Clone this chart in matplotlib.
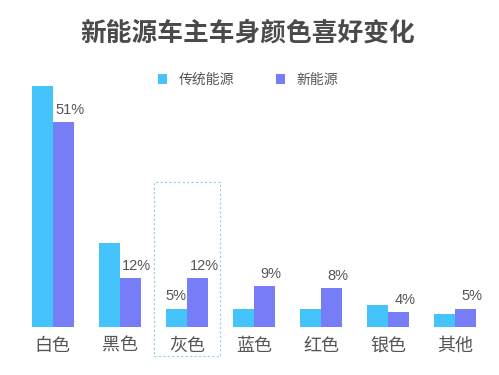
import matplotlib
matplotlib.use("Agg")
import matplotlib.pyplot as plt
from matplotlib.patches import Rectangle
import numpy as np

plt.rcParams['font.family'] = ['Noto Sans CJK SC', 'DejaVu Sans']

categories = ['白色', '黑色', '灰色', '蓝色', '红色', '银色', '其他']
traditional = [60, 21, 4.5, 4.5, 4.5, 5.6, 3.3]
new_energy = [51, 12.2, 12.2, 10.1, 9.7, 3.7, 4.5]
new_labels = ['51%', '12%', '12%', '9%', '8%', '4%', '5%']
trad_labels = {2: '5%'}

c_trad = '#45C3FB'
c_new = '#777DF6'
txt = '#555555'

fig = plt.figure(figsize=(4.99, 3.75), dpi=100)
ax = fig.add_axes([10 / 499, 48 / 375, 480 / 499, 260.7 / 375])

x = np.arange(len(categories))
w = 0.313
b1 = ax.bar(x - w / 2, traditional, w, color=c_trad, label='传统能源')
b2 = ax.bar(x + w / 2, new_energy, w, color=c_new, label='新能源')

for i, lab in enumerate(new_labels):
    ax.annotate(lab, (x[i] + w / 2 + 0.1, new_energy[i]), xytext=(0, 4),
                textcoords='offset points', ha='center', va='bottom',
                fontsize=10.5, color=txt, family='Liberation Sans')
for i, lab in trad_labels.items():
    ax.annotate(lab, (x[i] - w / 2, traditional[i]), xytext=(0, 4),
                textcoords='offset points', ha='center', va='bottom',
                fontsize=10.5, color=txt, family='Liberation Sans')

# dashed highlight box around 灰色
ax.add_patch(Rectangle((1.51, -7.2), 0.98, 43.4, fill=False,
                       edgecolor='#8ECFEA', linestyle=(0, (2, 2)),
                       linewidth=0.8, clip_on=False))

ax.set_xlim(-0.635, 6.52)
ax.set_ylim(0, 65)
ax.set_xticks(x)
ax.set_xticklabels(categories, fontsize=13, color=txt)
ax.tick_params(axis='x', length=0, pad=7)
ax.set_yticks([])
for s in ax.spines.values():
    s.set_visible(False)

fig.text(0.497, 1 - 33 / 375, '新能源车主车身颜色喜好变化', ha='center',
         va='center', fontsize=18.5, fontweight='bold', color='#4a4a4a')

fig.legend(handles=[b1, b2], loc='center', ncol=2, frameon=False,
           bbox_to_anchor=(248 / 499, 1 - 80 / 375), fontsize=10,
           handlelength=0.7, handleheight=0.7, columnspacing=3.0,
           handletextpad=0.8, labelcolor=txt)

fig.savefig('out.png', dpi=100)
